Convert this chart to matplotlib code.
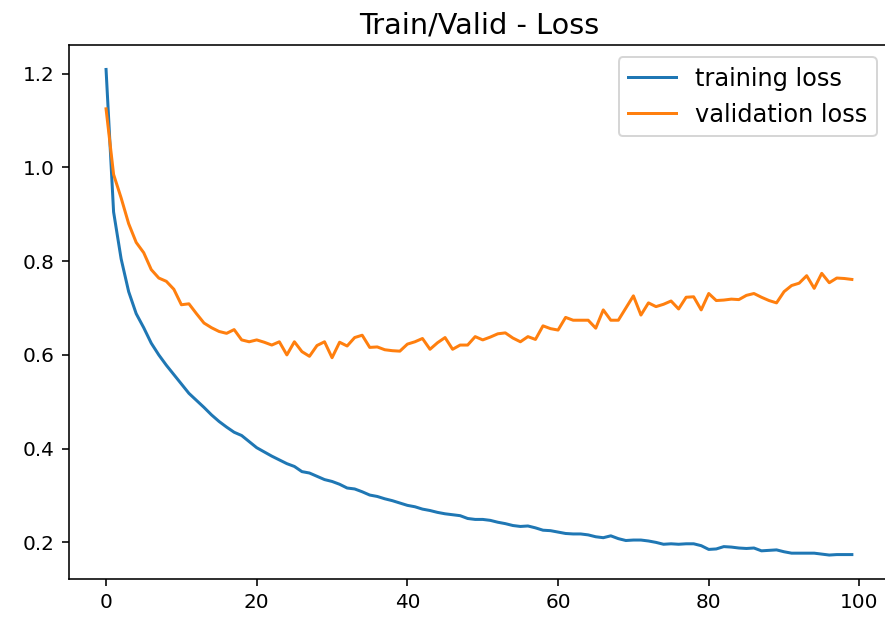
import numpy as np
import matplotlib.pyplot as plt

# loss per epoch
train_loss = [
    1.209, 0.905, 0.805, 0.735, 0.688, 0.658, 0.625, 0.600, 0.578, 0.558,
    0.538, 0.518, 0.503, 0.488, 0.472, 0.458, 0.446, 0.435, 0.428, 0.415,
    0.402, 0.393, 0.384, 0.376, 0.368, 0.362, 0.351, 0.348, 0.341, 0.334,
    0.330, 0.324, 0.316, 0.314, 0.308, 0.301, 0.298, 0.293, 0.289, 0.284,
    0.279, 0.276, 0.271, 0.268, 0.264, 0.261, 0.259, 0.257, 0.251, 0.249,
    0.249, 0.247, 0.243, 0.240, 0.236, 0.234, 0.235, 0.231, 0.226, 0.225,
    0.222, 0.219, 0.218, 0.218, 0.216, 0.212, 0.210, 0.214, 0.208, 0.204,
    0.205, 0.205, 0.203, 0.200, 0.196, 0.197, 0.196, 0.197, 0.197, 0.193,
    0.185, 0.186, 0.191, 0.190, 0.188, 0.187, 0.188, 0.182, 0.183, 0.184,
    0.180, 0.177, 0.177, 0.177, 0.177, 0.175, 0.173, 0.174, 0.174, 0.174,
]
valid_loss = [
    1.125, 0.985, 0.935, 0.880, 0.840, 0.818, 0.782, 0.764, 0.757, 0.740,
    0.707, 0.709, 0.688, 0.668, 0.658, 0.650, 0.646, 0.654, 0.632, 0.628,
    0.632, 0.627, 0.621, 0.628, 0.600, 0.628, 0.607, 0.597, 0.620, 0.628,
    0.594, 0.627, 0.619, 0.637, 0.642, 0.616, 0.617, 0.611, 0.609, 0.608,
    0.623, 0.628, 0.635, 0.612, 0.626, 0.637, 0.612, 0.621, 0.621, 0.639,
    0.632, 0.638, 0.645, 0.647, 0.636, 0.628, 0.639, 0.633, 0.662, 0.656,
    0.653, 0.680, 0.674, 0.674, 0.674, 0.657, 0.696, 0.674, 0.674, 0.700,
    0.726, 0.685, 0.711, 0.703, 0.708, 0.715, 0.698, 0.723, 0.724, 0.696,
    0.731, 0.716, 0.717, 0.719, 0.718, 0.727, 0.731, 0.723, 0.716, 0.711,
    0.735, 0.748, 0.753, 0.769, 0.742, 0.774, 0.754, 0.764, 0.763, 0.761,
]
epochs = np.arange(len(train_loss))

fig = plt.figure(figsize=(885 / 144, 624 / 144), dpi=144)
ax = fig.add_axes([0.0777, 0.0716, 0.927, 0.856])
ax.plot(epochs, train_loss, label="training loss")
ax.plot(epochs, valid_loss, label="validation loss")
ax.set_title("Train/Valid - Loss", fontsize="x-large")
ax.legend(fontsize="large")
fig.savefig("out.png", dpi=144)
